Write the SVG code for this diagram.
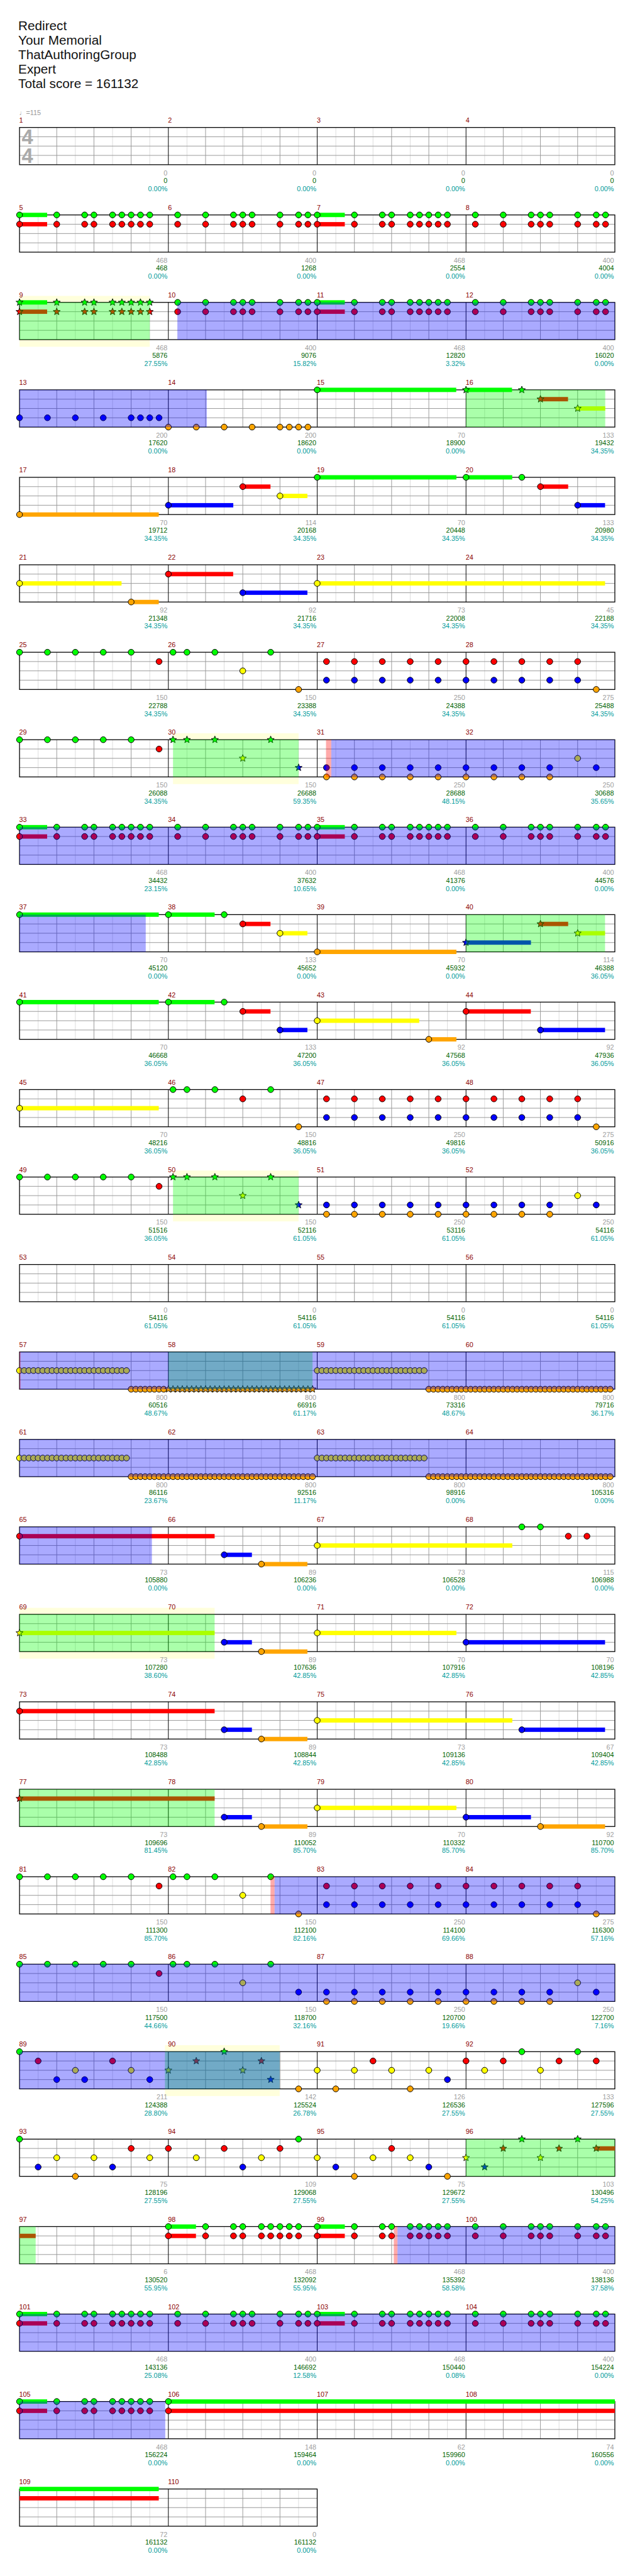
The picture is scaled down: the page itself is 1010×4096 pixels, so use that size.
<svg xmlns="http://www.w3.org/2000/svg" width="1010" height="4096" viewBox="0 0 1010 4096">
<style>
.t{font-family:"Liberation Sans",Arial,sans-serif;font-size:11px}
.ti{font-family:"Liberation Sans",Arial,sans-serif;font-size:21px;fill:#111}
.ts{font-family:"Liberation Sans",Arial,sans-serif;font-size:33px;font-weight:bold;fill:#aaa}
.mn{fill:#8b0000}
.a{fill:#a0a0a0;text-anchor:end}
.b{fill:#006400;text-anchor:end}
.p{fill:#009b9b;text-anchor:end}
.G{fill:#00ff00}.R{fill:#ff0000}.Y{fill:#ffff00}.B{fill:#0000ff}.O{fill:#ffa500}
.ob{fill:#0000ff;fill-opacity:.333}
.og{fill:#00ff00;fill-opacity:.333}
.op{fill:#ff0000;fill-opacity:.333}
.bd{fill:#ffffdc}
</style>
<defs>
<circle id="c" r="4.8" stroke="#000" stroke-width="1"/>
<path id="s" d="M0,-6L1.53,-2.1L5.71,-1.85L2.47,0.8L3.53,4.85L0,2.6L-3.53,4.85L-2.47,0.8L-5.71,-1.85L-1.53,-2.1Z" stroke="#000" stroke-width="0.9"/>
<g id="mg">
<path d="M30 0V60M90 0V60M150 0V60M210 0V60" stroke="#dcdcdc" fill="none"/>
<path d="M60 0V60M120 0V60M180 0V60M0 15H240M0 30H240M0 45H240" stroke="#999" fill="none"/>
</g>
<g id="rg">
<rect x="31.5" width="960" height="60" fill="#fff"/>
<use href="#mg" x="31.5"/><use href="#mg" x="271.5"/><use href="#mg" x="511.5"/><use href="#mg" x="751.5"/>
<path d="M271.5 0V60M511.5 0V60M751.5 0V60" stroke="#000" fill="none"/>
<rect x="31.5" width="960" height="60" fill="none" stroke="#000" stroke-width="1.3"/>
</g>
<g id="rg2">
<rect x="31.5" width="480" height="60" fill="#fff"/>
<use href="#mg" x="31.5"/><use href="#mg" x="271.5"/>
<path d="M271.5 0V60" stroke="#000" fill="none"/>
<rect x="31.5" width="480" height="60" fill="none" stroke="#000" stroke-width="1.3"/>
</g>
<g id="gr"><use href="#c" class="G"/><use href="#c" class="R" y="15"/></g>
<g id="grS"><use href="#s" class="G"/><use href="#s" class="R" y="15"/></g>
<g id="rb"><use href="#c" class="R" y="15"/><use href="#c" class="B" y="45"/></g>
<g id="bo"><use href="#c" class="B" y="45"/><use href="#c" class="O" y="60"/></g>
<g id="pA"><rect class="G" y="-3.5" width="44.5" height="7"/><rect class="R" y="11.5" width="44.5" height="7"/><use href="#gr"/><use href="#gr" x="60"/><use href="#gr" x="105"/><use href="#gr" x="120"/><use href="#gr" x="150"/><use href="#gr" x="165"/><use href="#gr" x="180"/><use href="#gr" x="195"/><use href="#gr" x="210"/></g>
<g id="sA"><rect class="G" y="-3.5" width="44.5" height="7"/><rect class="R" y="11.5" width="44.5" height="7"/><use href="#grS"/><use href="#grS" x="60"/><use href="#grS" x="105"/><use href="#grS" x="120"/><use href="#grS" x="150"/><use href="#grS" x="165"/><use href="#grS" x="180"/><use href="#grS" x="195"/><use href="#grS" x="210"/></g>
<g id="pB"><use href="#gr" x="15"/><use href="#gr" x="60"/><use href="#gr" x="105"/><use href="#gr" x="120"/><use href="#gr" x="135"/><use href="#gr" x="180"/><use href="#gr" x="210"/><use href="#gr" x="225"/></g>
<g id="pC"><use href="#c" class="G"/><use href="#c" class="G" x="45"/><use href="#c" class="G" x="90"/><use href="#c" class="G" x="135"/><use href="#c" class="G" x="180"/><use href="#c" class="R" x="225" y="15"/></g>
<g id="pD0"><use href="#c" class="G" x="7.5"/><use href="#c" class="G" x="30"/><use href="#c" class="G" x="75"/></g>
<g id="pD1"><use href="#pD0"/><use href="#c" class="Y" x="120" y="30"/><use href="#c" class="G" x="165"/><use href="#c" class="O" x="210" y="60"/></g>
<g id="pD2"><use href="#pD0"/><use href="#c" class="R" x="120" y="15"/><use href="#c" class="G" x="165"/><use href="#c" class="O" x="210" y="60"/></g>
<g id="pD3"><use href="#pD0"/><use href="#c" class="Y" x="120" y="30"/><use href="#c" class="G" x="165"/><use href="#c" class="B" x="210" y="45"/></g>
<g id="sD"><use href="#s" class="G" x="7.5"/><use href="#s" class="G" x="30"/><use href="#s" class="G" x="75"/><use href="#s" class="Y" x="120" y="30"/><use href="#s" class="G" x="165"/><use href="#s" class="B" x="210" y="45"/></g>
<g id="pE1"><use href="#rb" x="15"/><use href="#rb" x="60"/><use href="#rb" x="105"/><use href="#rb" x="150"/><use href="#rb" x="195"/></g>
<g id="pE2"><use href="#rb"/><use href="#rb" x="45"/><use href="#rb" x="90"/><use href="#rb" x="135"/><use href="#rb" x="180"/><use href="#c" class="O" x="210" y="60"/></g>
<g id="pF1"><use href="#bo" x="15"/><use href="#bo" x="60"/><use href="#bo" x="105"/><use href="#bo" x="150"/><use href="#bo" x="195"/></g>
<g id="pF2"><use href="#bo"/><use href="#bo" x="45"/><use href="#bo" x="90"/><use href="#bo" x="135"/><use href="#c" class="Y" x="180" y="30"/><use href="#c" class="B" x="210" y="45"/></g>
<g id="pH"><rect class="B" x="90" y="41.5" width="44.7" height="7"/><use href="#c" class="B" x="90" y="45"/><rect class="O" x="150" y="56.5" width="74.2" height="7"/><use href="#c" class="O" x="150" y="60"/></g>
<g id="y8"><use href="#c" class="Y" y="30"/><use href="#c" class="Y" x="7.5" y="30"/><use href="#c" class="Y" x="15" y="30"/><use href="#c" class="Y" x="22.5" y="30"/><use href="#c" class="Y" x="30" y="30"/><use href="#c" class="Y" x="37.5" y="30"/><use href="#c" class="Y" x="45" y="30"/><use href="#c" class="Y" x="52.5" y="30"/></g>
<g id="o8"><use href="#c" class="O" y="60"/><use href="#c" class="O" x="7.5" y="60"/><use href="#c" class="O" x="15" y="60"/><use href="#c" class="O" x="22.5" y="60"/><use href="#c" class="O" x="30" y="60"/><use href="#c" class="O" x="37.5" y="60"/><use href="#c" class="O" x="45" y="60"/><use href="#c" class="O" x="52.5" y="60"/></g>
<g id="s8"><use href="#s" class="O" y="60"/><use href="#s" class="O" x="7.5" y="60"/><use href="#s" class="O" x="15" y="60"/><use href="#s" class="O" x="22.5" y="60"/><use href="#s" class="O" x="30" y="60"/><use href="#s" class="O" x="37.5" y="60"/><use href="#s" class="O" x="45" y="60"/><use href="#s" class="O" x="52.5" y="60"/></g>
</defs>
<rect width="1010" height="4096" fill="#fff"/>
<g transform="scale(0.98633)">
<g id="title">
<text class="ti" x="29.5" y="49">Redirect</text>
<text class="ti" x="29.5" y="72.3">Your Memorial</text>
<text class="ti" x="29.5" y="95.5">ThatAuthoringGroup</text>
<text class="ti" x="29.5" y="118.6">Expert</text>
<text class="ti" x="29.5" y="141.7">Total score = 161132</text>
</g>

<g id="row1" transform="translate(0,205.5)">
<use href="#rg"/>
<text class="ts" x="35" y="26.8">4</text><text class="ts" x="35" y="56.8">4</text>
<g class="t">
<text x="31" y="-20" fill="#999">♩=115</text>
<text class="mn" x="31" y="-8">1</text><text class="mn" x="271" y="-8">2</text><text class="mn" x="511" y="-8">3</text><text class="mn" x="751" y="-8">4</text>
<text class="a" x="270" y="77">0</text><text class="b" x="270" y="89.7">0</text><text class="p" x="270" y="102.8">0.00%</text>
<text class="a" x="510" y="77">0</text><text class="b" x="510" y="89.7">0</text><text class="p" x="510" y="102.8">0.00%</text>
<text class="a" x="750" y="77">0</text><text class="b" x="750" y="89.7">0</text><text class="p" x="750" y="102.8">0.00%</text>
<text class="a" x="990" y="77">0</text><text class="b" x="990" y="89.7">0</text><text class="p" x="990" y="102.8">0.00%</text>
</g></g>

<g id="row2" transform="translate(0,346.5)">
<use href="#rg"/>
<use href="#pA" x="31.5"/><use href="#pB" x="271.5"/><use href="#pA" x="511.5"/><use href="#pB" x="751.5"/>
<g class="t">
<text class="mn" x="31" y="-8">5</text><text class="mn" x="271" y="-8">6</text><text class="mn" x="511" y="-8">7</text><text class="mn" x="751" y="-8">8</text>
<text class="a" x="270" y="77">468</text><text class="b" x="270" y="89.7">468</text><text class="p" x="270" y="102.8">0.00%</text>
<text class="a" x="510" y="77">400</text><text class="b" x="510" y="89.7">1268</text><text class="p" x="510" y="102.8">0.00%</text>
<text class="a" x="750" y="77">468</text><text class="b" x="750" y="89.7">2554</text><text class="p" x="750" y="102.8">0.00%</text>
<text class="a" x="990" y="77">400</text><text class="b" x="990" y="89.7">4004</text><text class="p" x="990" y="102.8">0.00%</text>
</g></g>

<g id="row3" transform="translate(0,487.5)">
<rect class="bd" x="31.5" y="-10.5" width="210" height="82"/>
<use href="#rg"/>
<use href="#sA" x="31.5"/><use href="#pB" x="271.5"/><use href="#pA" x="511.5"/><use href="#pB" x="751.5"/>
<rect class="og" x="31.5" width="210" height="60"/>
<rect class="ob" x="286" width="705.5" height="60"/>
<g class="t">
<text class="mn" x="31" y="-8">9</text><text class="mn" x="271" y="-8">10</text><text class="mn" x="511" y="-8">11</text><text class="mn" x="751" y="-8">12</text>
<text class="a" x="270" y="77">468</text><text class="b" x="270" y="89.7">5876</text><text class="p" x="270" y="102.8">27.55%</text>
<text class="a" x="510" y="77">400</text><text class="b" x="510" y="89.7">9076</text><text class="p" x="510" y="102.8">15.82%</text>
<text class="a" x="750" y="77">468</text><text class="b" x="750" y="89.7">12820</text><text class="p" x="750" y="102.8">3.32%</text>
<text class="a" x="990" y="77">400</text><text class="b" x="990" y="89.7">16020</text><text class="p" x="990" y="102.8">0.00%</text>
</g></g>

<g id="row4" transform="translate(0,628.5)">
<use href="#rg"/>
<use href="#c" class="B" x="31.5" y="45"/><use href="#c" class="B" x="76.5" y="45"/><use href="#c" class="B" x="121.5" y="45"/><use href="#c" class="B" x="166.5" y="45"/><use href="#c" class="B" x="211.5" y="45"/><use href="#c" class="B" x="226.5" y="45"/><use href="#c" class="B" x="241.5" y="45"/><use href="#c" class="B" x="256.5" y="45"/>
<use href="#c" class="O" x="271.5" y="60"/><use href="#c" class="O" x="316.5" y="60"/><use href="#c" class="O" x="361.5" y="60"/><use href="#c" class="O" x="406.5" y="60"/><use href="#c" class="O" x="451.5" y="60"/><use href="#c" class="O" x="466.5" y="60"/><use href="#c" class="O" x="481.5" y="60"/><use href="#c" class="O" x="496.5" y="60"/>
<rect class="G" x="511.5" y="-3.5" width="224.2" height="7"/><use href="#c" class="G" x="511.5"/>
<rect class="G" x="751.5" y="-3.5" width="74.2" height="7"/><use href="#s" class="G" x="751.5"/><use href="#s" class="G" x="841.5"/>
<rect class="R" x="871.5" y="11.5" width="44.5" height="7"/><use href="#s" class="R" x="871.5" y="15"/>
<rect class="Y" x="931.5" y="26.5" width="44.5" height="7"/><use href="#s" class="Y" x="931.5" y="30"/>
<rect class="og" x="751.5" width="224.5" height="60"/>
<rect class="ob" x="31.5" width="302" height="60"/>
<g class="t">
<text class="mn" x="31" y="-8">13</text><text class="mn" x="271" y="-8">14</text><text class="mn" x="511" y="-8">15</text><text class="mn" x="751" y="-8">16</text>
<text class="a" x="270" y="77">200</text><text class="b" x="270" y="89.7">17620</text><text class="p" x="270" y="102.8">0.00%</text>
<text class="a" x="510" y="77">200</text><text class="b" x="510" y="89.7">18620</text><text class="p" x="510" y="102.8">0.00%</text>
<text class="a" x="750" y="77">70</text><text class="b" x="750" y="89.7">18900</text><text class="p" x="750" y="102.8">0.00%</text>
<text class="a" x="990" y="77">133</text><text class="b" x="990" y="89.7">19432</text><text class="p" x="990" y="102.8">34.35%</text>
</g></g>

<g id="row5" transform="translate(0,769.5)">
<use href="#rg"/>
<rect class="O" x="31.5" y="56.5" width="224.5" height="7"/><use href="#c" class="O" x="31.5" y="60"/>
<rect class="B" x="271.5" y="41.5" width="104.7" height="7"/><use href="#c" class="B" x="271.5" y="45"/>
<rect class="R" x="391.5" y="11.5" width="44.7" height="7"/><use href="#c" class="R" x="391.5" y="15"/>
<rect class="Y" x="451.5" y="26.5" width="44.2" height="7"/><use href="#c" class="Y" x="451.5" y="30"/>
<rect class="G" x="511.5" y="-3.5" width="224.5" height="7"/><use href="#c" class="G" x="511.5"/>
<rect class="G" x="751.5" y="-3.5" width="74.5" height="7"/><use href="#c" class="G" x="751.5"/><use href="#c" class="G" x="841.5"/>
<rect class="R" x="871.5" y="11.5" width="44.7" height="7"/><use href="#c" class="R" x="871.5" y="15"/>
<rect class="B" x="931.5" y="41.5" width="44.2" height="7"/><use href="#c" class="B" x="931.5" y="45"/>
<g class="t">
<text class="mn" x="31" y="-8">17</text><text class="mn" x="271" y="-8">18</text><text class="mn" x="511" y="-8">19</text><text class="mn" x="751" y="-8">20</text>
<text class="a" x="270" y="77">70</text><text class="b" x="270" y="89.7">19712</text><text class="p" x="270" y="102.8">34.35%</text>
<text class="a" x="510" y="77">114</text><text class="b" x="510" y="89.7">20168</text><text class="p" x="510" y="102.8">34.35%</text>
<text class="a" x="750" y="77">70</text><text class="b" x="750" y="89.7">20448</text><text class="p" x="750" y="102.8">34.35%</text>
<text class="a" x="990" y="77">133</text><text class="b" x="990" y="89.7">20980</text><text class="p" x="990" y="102.8">34.35%</text>
</g></g>

<g id="row6" transform="translate(0,910.5)">
<use href="#rg"/>
<rect class="Y" x="31.5" y="26.5" width="164.5" height="7"/><use href="#c" class="Y" x="31.5" y="30"/>
<rect class="O" x="211.5" y="56.5" width="44.5" height="7"/><use href="#c" class="O" x="211.5" y="60"/>
<rect class="R" x="271.5" y="11.5" width="104.5" height="7"/><use href="#c" class="R" x="271.5" y="15"/>
<rect class="B" x="391.5" y="41.5" width="104.2" height="7"/><use href="#c" class="B" x="391.5" y="45"/>
<rect class="Y" x="511.5" y="26.5" width="464.2" height="7"/><use href="#c" class="Y" x="511.5" y="30"/>
<g class="t">
<text class="mn" x="31" y="-8">21</text><text class="mn" x="271" y="-8">22</text><text class="mn" x="511" y="-8">23</text><text class="mn" x="751" y="-8">24</text>
<text class="a" x="270" y="77">92</text><text class="b" x="270" y="89.7">21348</text><text class="p" x="270" y="102.8">34.35%</text>
<text class="a" x="510" y="77">92</text><text class="b" x="510" y="89.7">21716</text><text class="p" x="510" y="102.8">34.35%</text>
<text class="a" x="750" y="77">73</text><text class="b" x="750" y="89.7">22008</text><text class="p" x="750" y="102.8">34.35%</text>
<text class="a" x="990" y="77">45</text><text class="b" x="990" y="89.7">22188</text><text class="p" x="990" y="102.8">34.35%</text>
</g></g>

<g id="row7" transform="translate(0,1051.5)">
<use href="#rg"/>
<use href="#pC" x="31.5"/><use href="#pD1" x="271.5"/><use href="#pE1" x="511.5"/><use href="#pE2" x="751.5"/>
<g class="t">
<text class="mn" x="31" y="-8">25</text><text class="mn" x="271" y="-8">26</text><text class="mn" x="511" y="-8">27</text><text class="mn" x="751" y="-8">28</text>
<text class="a" x="270" y="77">150</text><text class="b" x="270" y="89.7">22788</text><text class="p" x="270" y="102.8">34.35%</text>
<text class="a" x="510" y="77">150</text><text class="b" x="510" y="89.7">23388</text><text class="p" x="510" y="102.8">34.35%</text>
<text class="a" x="750" y="77">250</text><text class="b" x="750" y="89.7">24388</text><text class="p" x="750" y="102.8">34.35%</text>
<text class="a" x="990" y="77">275</text><text class="b" x="990" y="89.7">25488</text><text class="p" x="990" y="102.8">34.35%</text>
</g></g>

<g id="row8" transform="translate(0,1192.5)">
<rect class="bd" x="279" y="-10.5" width="202.5" height="82"/>
<use href="#rg"/>
<use href="#pC" x="31.5"/><use href="#sD" x="271.5"/><use href="#pF1" x="511.5"/><use href="#pF2" x="751.5"/>
<rect class="og" x="279" width="202.5" height="60"/>
<rect class="op" x="525.7" width="8.5" height="60"/>
<rect class="ob" x="534.2" width="457.3" height="60"/>
<g class="t">
<text class="mn" x="31" y="-8">29</text><text class="mn" x="271" y="-8">30</text><text class="mn" x="511" y="-8">31</text><text class="mn" x="751" y="-8">32</text>
<text class="a" x="270" y="77">150</text><text class="b" x="270" y="89.7">26088</text><text class="p" x="270" y="102.8">34.35%</text>
<text class="a" x="510" y="77">150</text><text class="b" x="510" y="89.7">26688</text><text class="p" x="510" y="102.8">59.35%</text>
<text class="a" x="750" y="77">250</text><text class="b" x="750" y="89.7">28688</text><text class="p" x="750" y="102.8">48.15%</text>
<text class="a" x="990" y="77">250</text><text class="b" x="990" y="89.7">30688</text><text class="p" x="990" y="102.8">35.65%</text>
</g></g>

<g id="row9" transform="translate(0,1333.5)">
<use href="#rg"/>
<use href="#pA" x="31.5"/><use href="#pB" x="271.5"/><use href="#pA" x="511.5"/><use href="#pB" x="751.5"/>
<rect class="ob" x="31.5" width="960" height="60"/>
<g class="t">
<text class="mn" x="31" y="-8">33</text><text class="mn" x="271" y="-8">34</text><text class="mn" x="511" y="-8">35</text><text class="mn" x="751" y="-8">36</text>
<text class="a" x="270" y="77">468</text><text class="b" x="270" y="89.7">34432</text><text class="p" x="270" y="102.8">23.15%</text>
<text class="a" x="510" y="77">400</text><text class="b" x="510" y="89.7">37632</text><text class="p" x="510" y="102.8">10.65%</text>
<text class="a" x="750" y="77">468</text><text class="b" x="750" y="89.7">41376</text><text class="p" x="750" y="102.8">0.00%</text>
<text class="a" x="990" y="77">400</text><text class="b" x="990" y="89.7">44576</text><text class="p" x="990" y="102.8">0.00%</text>
</g></g>

<g id="row10" transform="translate(0,1474.5)">
<use href="#rg"/>
<rect class="G" x="31.5" y="-3.5" width="224.5" height="7"/><use href="#c" class="G" x="31.5"/>
<rect class="G" x="271.5" y="-3.5" width="74.6" height="7"/><use href="#c" class="G" x="271.5"/><use href="#c" class="G" x="361.5"/>
<rect class="R" x="391.5" y="11.5" width="44.7" height="7"/><use href="#c" class="R" x="391.5" y="15"/>
<rect class="Y" x="451.5" y="26.5" width="44.2" height="7"/><use href="#c" class="Y" x="451.5" y="30"/>
<rect class="O" x="511.5" y="56.5" width="224.5" height="7"/><use href="#c" class="O" x="511.5" y="60"/>
<rect class="B" x="751.5" y="41.5" width="104.7" height="7"/><use href="#s" class="B" x="751.5" y="45"/>
<rect class="R" x="871.5" y="11.5" width="44.7" height="7"/><use href="#s" class="R" x="871.5" y="15"/>
<rect class="Y" x="931.5" y="26.5" width="44.2" height="7"/><use href="#s" class="Y" x="931.5" y="30"/>
<rect class="og" x="751.5" width="224.2" height="60"/>
<rect class="ob" x="31.5" width="203.5" height="60"/>
<g class="t">
<text class="mn" x="31" y="-8">37</text><text class="mn" x="271" y="-8">38</text><text class="mn" x="511" y="-8">39</text><text class="mn" x="751" y="-8">40</text>
<text class="a" x="270" y="77">70</text><text class="b" x="270" y="89.7">45120</text><text class="p" x="270" y="102.8">0.00%</text>
<text class="a" x="510" y="77">133</text><text class="b" x="510" y="89.7">45652</text><text class="p" x="510" y="102.8">0.00%</text>
<text class="a" x="750" y="77">70</text><text class="b" x="750" y="89.7">45932</text><text class="p" x="750" y="102.8">0.00%</text>
<text class="a" x="990" y="77">114</text><text class="b" x="990" y="89.7">46388</text><text class="p" x="990" y="102.8">36.05%</text>
</g></g>

<g id="row11" transform="translate(0,1615.5)">
<use href="#rg"/>
<rect class="G" x="31.5" y="-3.5" width="224.5" height="7"/><use href="#c" class="G" x="31.5"/>
<rect class="G" x="271.5" y="-3.5" width="74.5" height="7"/><use href="#c" class="G" x="271.5"/><use href="#c" class="G" x="361.5"/>
<rect class="R" x="391.5" y="11.5" width="44.7" height="7"/><use href="#c" class="R" x="391.5" y="15"/>
<rect class="B" x="451.5" y="41.5" width="44.2" height="7"/><use href="#c" class="B" x="451.5" y="45"/>
<rect class="Y" x="511.5" y="26.5" width="164.5" height="7"/><use href="#c" class="Y" x="511.5" y="30"/>
<rect class="O" x="691.5" y="56.5" width="44.5" height="7"/><use href="#c" class="O" x="691.5" y="60"/>
<rect class="R" x="751.5" y="11.5" width="104.5" height="7"/><use href="#c" class="R" x="751.5" y="15"/>
<rect class="B" x="871.5" y="41.5" width="104.2" height="7"/><use href="#c" class="B" x="871.5" y="45"/>
<g class="t">
<text class="mn" x="31" y="-8">41</text><text class="mn" x="271" y="-8">42</text><text class="mn" x="511" y="-8">43</text><text class="mn" x="751" y="-8">44</text>
<text class="a" x="270" y="77">70</text><text class="b" x="270" y="89.7">46668</text><text class="p" x="270" y="102.8">36.05%</text>
<text class="a" x="510" y="77">133</text><text class="b" x="510" y="89.7">47200</text><text class="p" x="510" y="102.8">36.05%</text>
<text class="a" x="750" y="77">92</text><text class="b" x="750" y="89.7">47568</text><text class="p" x="750" y="102.8">36.05%</text>
<text class="a" x="990" y="77">92</text><text class="b" x="990" y="89.7">47936</text><text class="p" x="990" y="102.8">36.05%</text>
</g></g>

<g id="row12" transform="translate(0,1756.5)">
<use href="#rg"/>
<rect class="Y" x="31.5" y="26.5" width="224.5" height="7"/><use href="#c" class="Y" x="31.5" y="30"/>
<use href="#pD2" x="271.5"/><use href="#pE1" x="511.5"/><use href="#pE2" x="751.5"/>
<g class="t">
<text class="mn" x="31" y="-8">45</text><text class="mn" x="271" y="-8">46</text><text class="mn" x="511" y="-8">47</text><text class="mn" x="751" y="-8">48</text>
<text class="a" x="270" y="77">70</text><text class="b" x="270" y="89.7">48216</text><text class="p" x="270" y="102.8">36.05%</text>
<text class="a" x="510" y="77">150</text><text class="b" x="510" y="89.7">48816</text><text class="p" x="510" y="102.8">36.05%</text>
<text class="a" x="750" y="77">250</text><text class="b" x="750" y="89.7">49816</text><text class="p" x="750" y="102.8">36.05%</text>
<text class="a" x="990" y="77">275</text><text class="b" x="990" y="89.7">50916</text><text class="p" x="990" y="102.8">36.05%</text>
</g></g>

<g id="row13" transform="translate(0,1897.5)">
<rect class="bd" x="279" y="-10.5" width="202.5" height="82"/>
<use href="#rg"/>
<use href="#pC" x="31.5"/><use href="#sD" x="271.5"/><use href="#pF1" x="511.5"/><use href="#pF2" x="751.5"/>
<rect class="og" x="279" width="202.5" height="60"/>
<g class="t">
<text class="mn" x="31" y="-8">49</text><text class="mn" x="271" y="-8">50</text><text class="mn" x="511" y="-8">51</text><text class="mn" x="751" y="-8">52</text>
<text class="a" x="270" y="77">150</text><text class="b" x="270" y="89.7">51516</text><text class="p" x="270" y="102.8">36.05%</text>
<text class="a" x="510" y="77">150</text><text class="b" x="510" y="89.7">52116</text><text class="p" x="510" y="102.8">61.05%</text>
<text class="a" x="750" y="77">250</text><text class="b" x="750" y="89.7">53116</text><text class="p" x="750" y="102.8">61.05%</text>
<text class="a" x="990" y="77">250</text><text class="b" x="990" y="89.7">54116</text><text class="p" x="990" y="102.8">61.05%</text>
</g></g>

<g id="row14" transform="translate(0,2038.5)">
<use href="#rg"/>
<g class="t">
<text class="mn" x="31" y="-8">53</text><text class="mn" x="271" y="-8">54</text><text class="mn" x="511" y="-8">55</text><text class="mn" x="751" y="-8">56</text>
<text class="a" x="270" y="77">0</text><text class="b" x="270" y="89.7">54116</text><text class="p" x="270" y="102.8">61.05%</text>
<text class="a" x="510" y="77">0</text><text class="b" x="510" y="89.7">54116</text><text class="p" x="510" y="102.8">61.05%</text>
<text class="a" x="750" y="77">0</text><text class="b" x="750" y="89.7">54116</text><text class="p" x="750" y="102.8">61.05%</text>
<text class="a" x="990" y="77">0</text><text class="b" x="990" y="89.7">54116</text><text class="p" x="990" y="102.8">61.05%</text>
</g></g>

<g id="row15" transform="translate(0,2179.5)">
<use href="#rg"/>
<use href="#y8" x="31.5"/><use href="#y8" x="91.5"/><use href="#y8" x="151.5"/><use href="#o8" x="211.5"/>
<use href="#s8" x="271.5"/><use href="#s8" x="331.5"/><use href="#s8" x="391.5"/><use href="#s8" x="451.5"/>
<use href="#y8" x="511.5"/><use href="#y8" x="571.5"/><use href="#y8" x="631.5"/><use href="#o8" x="691.5"/>
<use href="#o8" x="751.5"/><use href="#o8" x="811.5"/><use href="#o8" x="871.5"/><use href="#o8" x="931.5"/>
<rect class="og" x="271.5" width="232.5" height="60"/>
<rect class="ob" x="31.5" width="960" height="60"/>
<rect class="op" x="31.5" width="1.5" height="60"/>
<g class="t">
<text class="mn" x="31" y="-8">57</text><text class="mn" x="271" y="-8">58</text><text class="mn" x="511" y="-8">59</text><text class="mn" x="751" y="-8">60</text>
<text class="a" x="270" y="77">800</text><text class="b" x="270" y="89.7">60516</text><text class="p" x="270" y="102.8">48.67%</text>
<text class="a" x="510" y="77">800</text><text class="b" x="510" y="89.7">66916</text><text class="p" x="510" y="102.8">61.17%</text>
<text class="a" x="750" y="77">800</text><text class="b" x="750" y="89.7">73316</text><text class="p" x="750" y="102.8">48.67%</text>
<text class="a" x="990" y="77">800</text><text class="b" x="990" y="89.7">79716</text><text class="p" x="990" y="102.8">36.17%</text>
</g></g>

<g id="row16" transform="translate(0,2320.5)">
<use href="#rg"/>
<use href="#y8" x="31.5"/><use href="#y8" x="91.5"/><use href="#y8" x="151.5"/><use href="#o8" x="211.5"/>
<use href="#o8" x="271.5"/><use href="#o8" x="331.5"/><use href="#o8" x="391.5"/><use href="#o8" x="451.5"/>
<use href="#y8" x="511.5"/><use href="#y8" x="571.5"/><use href="#y8" x="631.5"/><use href="#o8" x="691.5"/>
<use href="#o8" x="751.5"/><use href="#o8" x="811.5"/><use href="#o8" x="871.5"/><use href="#o8" x="931.5"/>
<rect class="ob" x="31.5" width="960" height="60"/>
<g class="t">
<text class="mn" x="31" y="-8">61</text><text class="mn" x="271" y="-8">62</text><text class="mn" x="511" y="-8">63</text><text class="mn" x="751" y="-8">64</text>
<text class="a" x="270" y="77">800</text><text class="b" x="270" y="89.7">86116</text><text class="p" x="270" y="102.8">23.67%</text>
<text class="a" x="510" y="77">800</text><text class="b" x="510" y="89.7">92516</text><text class="p" x="510" y="102.8">11.17%</text>
<text class="a" x="750" y="77">800</text><text class="b" x="750" y="89.7">98916</text><text class="p" x="750" y="102.8">0.00%</text>
<text class="a" x="990" y="77">800</text><text class="b" x="990" y="89.7">105316</text><text class="p" x="990" y="102.8">0.00%</text>
</g></g>

<g id="row17" transform="translate(0,2461.5)">
<use href="#rg"/>
<rect class="R" x="31.5" y="11.5" width="314.6" height="7"/><use href="#c" class="R" x="31.5" y="15"/>
<use href="#pH" x="271.5"/>
<rect class="Y" x="511.5" y="26.5" width="314.6" height="7"/><use href="#c" class="Y" x="511.5" y="30"/>
<use href="#c" class="G" x="841.5"/><use href="#c" class="G" x="871.5"/><use href="#c" class="R" x="916.5" y="15"/><use href="#c" class="R" x="946.5" y="15"/>
<rect class="ob" x="31.5" width="213.5" height="60"/>
<g class="t">
<text class="mn" x="31" y="-8">65</text><text class="mn" x="271" y="-8">66</text><text class="mn" x="511" y="-8">67</text><text class="mn" x="751" y="-8">68</text>
<text class="a" x="270" y="77">73</text><text class="b" x="270" y="89.7">105880</text><text class="p" x="270" y="102.8">0.00%</text>
<text class="a" x="510" y="77">89</text><text class="b" x="510" y="89.7">106236</text><text class="p" x="510" y="102.8">0.00%</text>
<text class="a" x="750" y="77">73</text><text class="b" x="750" y="89.7">106528</text><text class="p" x="750" y="102.8">0.00%</text>
<text class="a" x="990" y="77">115</text><text class="b" x="990" y="89.7">106988</text><text class="p" x="990" y="102.8">0.00%</text>
</g></g>

<g id="row18" transform="translate(0,2602.5)">
<rect class="bd" x="31.5" y="-10.5" width="314.6" height="82"/>
<use href="#rg"/>
<rect class="Y" x="31.5" y="26.5" width="314.6" height="7"/><use href="#s" class="Y" x="31.5" y="30"/>
<use href="#pH" x="271.5"/>
<rect class="Y" x="511.5" y="26.5" width="224.5" height="7"/><use href="#c" class="Y" x="511.5" y="30"/>
<rect class="B" x="751.5" y="41.5" width="224.2" height="7"/><use href="#c" class="B" x="751.5" y="45"/>
<rect class="og" x="31.5" width="314.6" height="60"/>
<g class="t">
<text class="mn" x="31" y="-8">69</text><text class="mn" x="271" y="-8">70</text><text class="mn" x="511" y="-8">71</text><text class="mn" x="751" y="-8">72</text>
<text class="a" x="270" y="77">73</text><text class="b" x="270" y="89.7">107280</text><text class="p" x="270" y="102.8">38.60%</text>
<text class="a" x="510" y="77">89</text><text class="b" x="510" y="89.7">107636</text><text class="p" x="510" y="102.8">42.85%</text>
<text class="a" x="750" y="77">70</text><text class="b" x="750" y="89.7">107916</text><text class="p" x="750" y="102.8">42.85%</text>
<text class="a" x="990" y="77">70</text><text class="b" x="990" y="89.7">108196</text><text class="p" x="990" y="102.8">42.85%</text>
</g></g>

<g id="row19" transform="translate(0,2743.5)">
<use href="#rg"/>
<rect class="R" x="31.5" y="11.5" width="314.6" height="7"/><use href="#c" class="R" x="31.5" y="15"/>
<use href="#pH" x="271.5"/>
<rect class="Y" x="511.5" y="26.5" width="314.6" height="7"/><use href="#c" class="Y" x="511.5" y="30"/>
<rect class="B" x="841.5" y="41.5" width="134.2" height="7"/><use href="#c" class="B" x="841.5" y="45"/>
<g class="t">
<text class="mn" x="31" y="-8">73</text><text class="mn" x="271" y="-8">74</text><text class="mn" x="511" y="-8">75</text><text class="mn" x="751" y="-8">76</text>
<text class="a" x="270" y="77">73</text><text class="b" x="270" y="89.7">108488</text><text class="p" x="270" y="102.8">42.85%</text>
<text class="a" x="510" y="77">89</text><text class="b" x="510" y="89.7">108844</text><text class="p" x="510" y="102.8">42.85%</text>
<text class="a" x="750" y="77">73</text><text class="b" x="750" y="89.7">109136</text><text class="p" x="750" y="102.8">42.85%</text>
<text class="a" x="990" y="77">67</text><text class="b" x="990" y="89.7">109404</text><text class="p" x="990" y="102.8">42.85%</text>
</g></g>

<g id="row20" transform="translate(0,2884.5)">
<use href="#rg"/>
<rect class="R" x="31.5" y="11.5" width="314.6" height="7"/><use href="#s" class="R" x="31.5" y="15"/>
<use href="#pH" x="271.5"/>
<rect class="Y" x="511.5" y="26.5" width="224.5" height="7"/><use href="#c" class="Y" x="511.5" y="30"/>
<rect class="B" x="751.5" y="41.5" width="104.7" height="7"/><use href="#c" class="B" x="751.5" y="45"/>
<rect class="O" x="871.5" y="56.5" width="104.2" height="7"/><use href="#c" class="O" x="871.5" y="60"/>
<rect class="og" x="31.5" width="314.6" height="60"/>
<g class="t">
<text class="mn" x="31" y="-8">77</text><text class="mn" x="271" y="-8">78</text><text class="mn" x="511" y="-8">79</text><text class="mn" x="751" y="-8">80</text>
<text class="a" x="270" y="77">73</text><text class="b" x="270" y="89.7">109696</text><text class="p" x="270" y="102.8">81.45%</text>
<text class="a" x="510" y="77">89</text><text class="b" x="510" y="89.7">110052</text><text class="p" x="510" y="102.8">85.70%</text>
<text class="a" x="750" y="77">70</text><text class="b" x="750" y="89.7">110332</text><text class="p" x="750" y="102.8">85.70%</text>
<text class="a" x="990" y="77">92</text><text class="b" x="990" y="89.7">110700</text><text class="p" x="990" y="102.8">85.70%</text>
</g></g>

<g id="row21" transform="translate(0,3025.5)">
<use href="#rg"/>
<use href="#pC" x="31.5"/><use href="#pD1" x="271.5"/><use href="#pE1" x="511.5"/><use href="#pE2" x="751.5"/>
<rect class="op" x="436.2" width="6.6" height="60"/>
<rect class="ob" x="442.8" width="548.7" height="60"/>
<g class="t">
<text class="mn" x="31" y="-8">81</text><text class="mn" x="271" y="-8">82</text><text class="mn" x="511" y="-8">83</text><text class="mn" x="751" y="-8">84</text>
<text class="a" x="270" y="77">150</text><text class="b" x="270" y="89.7">111300</text><text class="p" x="270" y="102.8">85.70%</text>
<text class="a" x="510" y="77">150</text><text class="b" x="510" y="89.7">112100</text><text class="p" x="510" y="102.8">82.16%</text>
<text class="a" x="750" y="77">250</text><text class="b" x="750" y="89.7">114100</text><text class="p" x="750" y="102.8">69.66%</text>
<text class="a" x="990" y="77">275</text><text class="b" x="990" y="89.7">116300</text><text class="p" x="990" y="102.8">57.16%</text>
</g></g>

<g id="row22" transform="translate(0,3166.5)">
<use href="#rg"/>
<use href="#pC" x="31.5"/><use href="#pD3" x="271.5"/><use href="#pF1" x="511.5"/><use href="#pF2" x="751.5"/>
<rect class="ob" x="31.5" width="960" height="60"/>
<g class="t">
<text class="mn" x="31" y="-8">85</text><text class="mn" x="271" y="-8">86</text><text class="mn" x="511" y="-8">87</text><text class="mn" x="751" y="-8">88</text>
<text class="a" x="270" y="77">150</text><text class="b" x="270" y="89.7">117500</text><text class="p" x="270" y="102.8">44.66%</text>
<text class="a" x="510" y="77">150</text><text class="b" x="510" y="89.7">118700</text><text class="p" x="510" y="102.8">32.16%</text>
<text class="a" x="750" y="77">250</text><text class="b" x="750" y="89.7">120700</text><text class="p" x="750" y="102.8">19.66%</text>
<text class="a" x="990" y="77">250</text><text class="b" x="990" y="89.7">122700</text><text class="p" x="990" y="102.8">7.16%</text>
</g></g>

<g id="row23" transform="translate(0,3307.5)">
<rect class="bd" x="266" y="-10.5" width="185" height="82"/>
<use href="#rg"/>
<use href="#c" class="G" x="31.5"/><use href="#c" class="R" x="61.5" y="15"/><use href="#c" class="B" x="91.5" y="45"/><use href="#c" class="Y" x="121.5" y="30"/><use href="#c" class="B" x="136.5" y="45"/><use href="#c" class="R" x="181.5" y="15"/><use href="#c" class="Y" x="211.5" y="30"/><use href="#c" class="B" x="241.5" y="45"/>
<use href="#s" class="Y" x="271.5" y="30"/><use href="#s" class="R" x="316.5" y="15"/><use href="#s" class="G" x="361.5"/><use href="#s" class="Y" x="391.5" y="30"/><use href="#s" class="R" x="421.5" y="15"/><use href="#s" class="B" x="436.5" y="45"/><use href="#c" class="O" x="481.5" y="60"/>
<use href="#c" class="Y" x="511.5" y="30"/><use href="#c" class="O" x="541.5" y="60"/><use href="#c" class="Y" x="571.5" y="30"/><use href="#c" class="R" x="601.5" y="15"/><use href="#c" class="Y" x="631.5" y="30"/><use href="#c" class="O" x="661.5" y="60"/><use href="#c" class="Y" x="691.5" y="30"/><use href="#c" class="B" x="721.5" y="45"/>
<use href="#c" class="R" x="751.5" y="15"/><use href="#c" class="Y" x="781.5" y="30"/><use href="#c" class="R" x="811.5" y="15"/><use href="#c" class="G" x="841.5"/><use href="#c" class="Y" x="871.5" y="30"/><use href="#c" class="R" x="901.5" y="15"/><use href="#c" class="G" x="931.5"/><use href="#c" class="R" x="961.5" y="15"/>
<rect class="og" x="266" width="185" height="60"/>
<rect class="ob" x="31.5" width="419.5" height="60"/>
<g class="t">
<text class="mn" x="31" y="-8">89</text><text class="mn" x="271" y="-8">90</text><text class="mn" x="511" y="-8">91</text><text class="mn" x="751" y="-8">92</text>
<text class="a" x="270" y="77">211</text><text class="b" x="270" y="89.7">124388</text><text class="p" x="270" y="102.8">28.80%</text>
<text class="a" x="510" y="77">142</text><text class="b" x="510" y="89.7">125524</text><text class="p" x="510" y="102.8">26.78%</text>
<text class="a" x="750" y="77">126</text><text class="b" x="750" y="89.7">126536</text><text class="p" x="750" y="102.8">27.55%</text>
<text class="a" x="990" y="77">133</text><text class="b" x="990" y="89.7">127596</text><text class="p" x="990" y="102.8">27.55%</text>
</g></g>

<g id="row24" transform="translate(0,3448.5)">
<use href="#rg"/>
<use href="#c" class="G" x="31.5"/><use href="#c" class="B" x="61.5" y="45"/><use href="#c" class="Y" x="91.5" y="30"/><use href="#c" class="O" x="121.5" y="60"/><use href="#c" class="Y" x="151.5" y="30"/><use href="#c" class="B" x="181.5" y="45"/><use href="#c" class="R" x="211.5" y="15"/><use href="#c" class="Y" x="241.5" y="30"/>
<use href="#c" class="R" x="271.5" y="15"/><use href="#c" class="Y" x="316.5" y="30"/><use href="#c" class="R" x="361.5" y="15"/><use href="#c" class="B" x="391.5" y="45"/><use href="#c" class="Y" x="421.5" y="30"/><use href="#c" class="R" x="451.5" y="15"/><use href="#c" class="G" x="481.5"/>
<use href="#c" class="Y" x="511.5" y="30"/><use href="#c" class="B" x="541.5" y="45"/><use href="#c" class="O" x="571.5" y="60"/><use href="#c" class="Y" x="601.5" y="30"/><use href="#c" class="R" x="631.5" y="15"/><use href="#c" class="Y" x="661.5" y="30"/><use href="#c" class="B" x="691.5" y="45"/><use href="#c" class="O" x="721.5" y="60"/>
<use href="#s" class="Y" x="751.5" y="30"/><use href="#s" class="B" x="781.5" y="45"/><use href="#s" class="R" x="811.5" y="15"/><use href="#s" class="G" x="841.5"/><use href="#s" class="Y" x="871.5" y="30"/><use href="#s" class="R" x="901.5" y="15"/><use href="#s" class="G" x="931.5"/>
<rect class="R" x="961.5" y="11.5" width="30" height="7"/><use href="#s" class="R" x="961.5" y="15"/>
<rect class="og" x="751.5" width="240" height="60"/>
<g class="t">
<text class="mn" x="31" y="-8">93</text><text class="mn" x="271" y="-8">94</text><text class="mn" x="511" y="-8">95</text><text class="mn" x="751" y="-8">96</text>
<text class="a" x="270" y="77">75</text><text class="b" x="270" y="89.7">128196</text><text class="p" x="270" y="102.8">27.55%</text>
<text class="a" x="510" y="77">109</text><text class="b" x="510" y="89.7">129068</text><text class="p" x="510" y="102.8">27.55%</text>
<text class="a" x="750" y="77">75</text><text class="b" x="750" y="89.7">129672</text><text class="p" x="750" y="102.8">27.55%</text>
<text class="a" x="990" y="77">103</text><text class="b" x="990" y="89.7">130496</text><text class="p" x="990" y="102.8">54.25%</text>
</g></g>

<g id="row25" transform="translate(0,3589.5)">
<use href="#rg"/>
<rect class="R" x="31.5" y="11.5" width="26" height="7"/>
<use href="#pA" x="271.5"/><use href="#pA" x="511.5"/><use href="#pB" x="751.5"/>
<rect class="og" x="31.5" width="26" height="60"/>
<rect class="op" x="635" width="6" height="60"/>
<rect class="ob" x="641" width="350.5" height="60"/>
<g class="t">
<text class="mn" x="31" y="-8">97</text><text class="mn" x="271" y="-8">98</text><text class="mn" x="511" y="-8">99</text><text class="mn" x="751" y="-8">100</text>
<text class="a" x="270" y="77">6</text><text class="b" x="270" y="89.7">130520</text><text class="p" x="270" y="102.8">55.95%</text>
<text class="a" x="510" y="77">468</text><text class="b" x="510" y="89.7">132092</text><text class="p" x="510" y="102.8">55.95%</text>
<text class="a" x="750" y="77">468</text><text class="b" x="750" y="89.7">135392</text><text class="p" x="750" y="102.8">58.58%</text>
<text class="a" x="990" y="77">400</text><text class="b" x="990" y="89.7">138136</text><text class="p" x="990" y="102.8">37.58%</text>
</g></g>

<g id="row26" transform="translate(0,3730.5)">
<use href="#rg"/>
<use href="#pA" x="31.5"/><use href="#pB" x="271.5"/><use href="#pA" x="511.5"/><use href="#pB" x="751.5"/>
<rect class="ob" x="31.5" width="960" height="60"/>
<g class="t">
<text class="mn" x="31" y="-8">101</text><text class="mn" x="271" y="-8">102</text><text class="mn" x="511" y="-8">103</text><text class="mn" x="751" y="-8">104</text>
<text class="a" x="270" y="77">468</text><text class="b" x="270" y="89.7">143136</text><text class="p" x="270" y="102.8">25.08%</text>
<text class="a" x="510" y="77">400</text><text class="b" x="510" y="89.7">146692</text><text class="p" x="510" y="102.8">12.58%</text>
<text class="a" x="750" y="77">468</text><text class="b" x="750" y="89.7">150440</text><text class="p" x="750" y="102.8">0.08%</text>
<text class="a" x="990" y="77">400</text><text class="b" x="990" y="89.7">154224</text><text class="p" x="990" y="102.8">0.00%</text>
</g></g>

<g id="row27" transform="translate(0,3871.5)">
<use href="#rg"/>
<use href="#pA" x="31.5"/>
<rect class="G" x="271.5" y="-3.5" width="720" height="7"/><rect class="R" x="271.5" y="11.5" width="720" height="7"/>
<use href="#gr" x="271.5"/>
<rect class="ob" x="31.5" width="235" height="60"/>
<g class="t">
<text class="mn" x="31" y="-8">105</text><text class="mn" x="271" y="-8">106</text><text class="mn" x="511" y="-8">107</text><text class="mn" x="751" y="-8">108</text>
<text class="a" x="270" y="77">468</text><text class="b" x="270" y="89.7">156224</text><text class="p" x="270" y="102.8">0.00%</text>
<text class="a" x="510" y="77">148</text><text class="b" x="510" y="89.7">159464</text><text class="p" x="510" y="102.8">0.00%</text>
<text class="a" x="750" y="77">62</text><text class="b" x="750" y="89.7">159960</text><text class="p" x="750" y="102.8">0.00%</text>
<text class="a" x="990" y="77">74</text><text class="b" x="990" y="89.7">160556</text><text class="p" x="990" y="102.8">0.00%</text>
</g></g>

<g id="row28" transform="translate(0,4012.5)">
<use href="#rg2"/>
<rect class="G" x="31.5" y="-3.5" width="224.5" height="7"/><rect class="R" x="31.5" y="11.5" width="224.5" height="7"/>
<g class="t">
<text class="mn" x="31" y="-8">109</text><text class="mn" x="271" y="-8">110</text>
<text class="a" x="270" y="77">72</text><text class="b" x="270" y="89.7">161132</text><text class="p" x="270" y="102.8">0.00%</text>
<text class="a" x="510" y="77">0</text><text class="b" x="510" y="89.7">161132</text><text class="p" x="510" y="102.8">0.00%</text>
</g></g>
</g>
</svg>
